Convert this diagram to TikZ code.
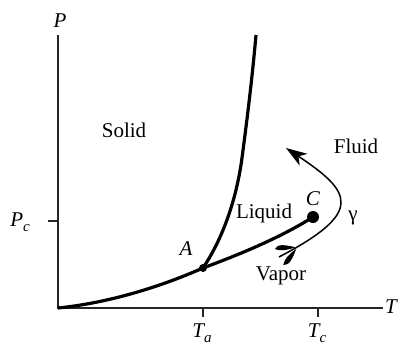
\documentclass[tikz,border=0pt]{standalone}
\usepackage{fontspec}
\setmainfont{Liberation Serif}
\usetikzlibrary{arrows.meta}
\begin{document}
\begin{tikzpicture}[x=1pt,y=-1pt,
  lbl/.style={inner sep=0pt,font=\fontsize{21}{24}\selectfont},
  ilbl/.style={inner sep=0pt,font=\fontsize{21}{24}\selectfont\itshape},
  axisline/.style={line width=1.5pt,draw=black!85},
  thick curve/.style={line width=3.2pt},
  dot/.style={circle,fill=black,inner sep=0pt,minimum size=#1},
  vane/.style={fill=black,draw=none}]
\useasboundingbox (0,0) rectangle (400,346);
\newcommand{\sbs}[1]{\raisebox{-5pt}{\fontsize{15}{15}\selectfont #1}}
% axes
\coordinate (O) at (58,308);
\coordinate (Ptop) at (58,35);
\coordinate (Tend) at (383,308);
\draw[axisline] (Ptop) -- (O) -- (Tend);
\node[ilbl] (Plbl) at (60,21) {P};
\node[ilbl] (Tlbl) at (391,307) {T};
% ticks
\coordinate (pc1) at (48,221); \coordinate (pc0) at (58,221);
\coordinate (ta0) at (203,308); \coordinate (ta1) at (203,317);
\coordinate (tc0) at (318,308); \coordinate (tc1) at (318,317);
\draw[axisline] (pc1) -- (pc0) (ta0) -- (ta1) (tc0) -- (tc1);
\node[ilbl] (Pc) at (20,222) {P\sbs{c}};
\node[ilbl] (Ta) at (202,333) {T\sbs{a}};
\node[ilbl] (Tc) at (317,333) {T\sbs{c}};
% points
\node[dot=8pt] (A) at (203,268) {};
\node[dot=12pt] (C) at (313,217) {};
\coordinate (F) at (256,35);
% curves
\draw[thick curve] (O) .. controls (108,303) and (160,287) .. (A.center)
  .. controls (238,255) and (280,238) .. (C.center);
\draw[thick curve] (A.center) .. controls (225,235) and (237,195) .. (242,158)
  .. controls (247,120) and (252,80) .. (F);
% gamma path
\coordinate (g0) at (279,257);
\coordinate (g1) at (286,148);
\draw[line width=1.5pt,-{Stealth[length=21pt,width=14pt,inset=6pt]}]
  (g0) .. controls (365,212) and (352,192) .. (g1);
\begin{scope}[shift={(g0)},rotate=28]
  \fill[vane] (0,-9) .. controls (5,-13) and (12,-7) .. (19,-1)
     .. controls (11,-2) and (4,-4) .. cycle;
  \fill[vane] (0,9) .. controls (5,13) and (12,7) .. (19,1)
     .. controls (11,2) and (4,4) .. cycle;
\end{scope}
% labels
\node[lbl] (solid) at (124,130) {Solid};
\node[lbl] (liquid) at (264,213) {Liquid};
\node[lbl] (fluid) at (356,146) {Fluid};
\node[lbl] (vapor) at (281,276) {Vapor};
\node[lbl] (gamma) at (353,218) {γ};
\node[ilbl] (Clbl) at (313,199) {C};
\node[ilbl] (Albl) at (186,249) {A};
\end{tikzpicture}
\end{document}
